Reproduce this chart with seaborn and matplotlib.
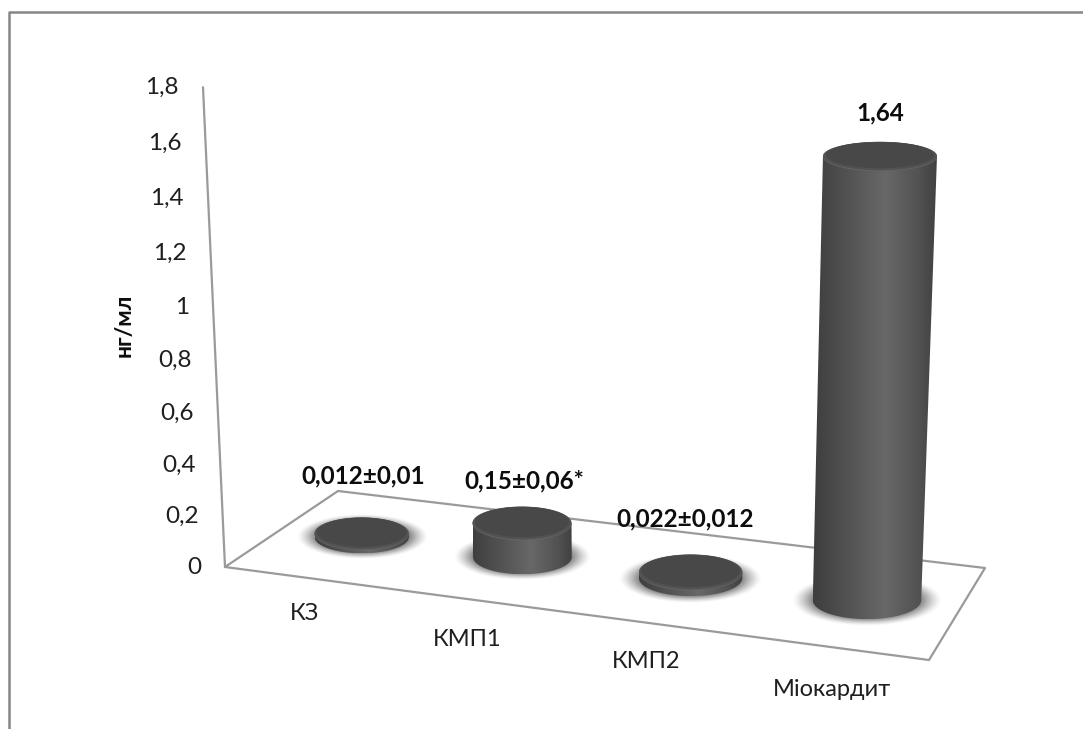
#!/usr/bin/env python3
"""3D-style cylinder chart: нг/мл by patient group."""

import numpy as np
import pandas as pd
import matplotlib.pyplot as plt
import seaborn as sns
from matplotlib.colors import LinearSegmentedColormap
from matplotlib.path import Path

categories = ['КЗ', 'КМП1', 'КМП2', 'Міокардит']
# drawn heights (КМП1 is drawn lower than its label says)
values = [0.012, 0.13, 0.022, 1.64]
value_labels = ['0,012±0,01', '0,15±0,06*', '0,022±0,012', '1,64']
y_ticks = [0, 0.2, 0.4, 0.6, 0.8, 1, 1.2, 1.4, 1.6, 1.8]
y_tick_labels = ['0', '0,2', '0,4', '0,6', '0,8', '1', '1,2', '1,4', '1,6', '1,8']
y_title = 'нг/мл'

# layout, in image pixels
FLOOR = np.array([[225, 567], [929, 660], [985, 568], [338, 491]], dtype=float)
LABEL_DY = [58, 43, 54, 44]
LABEL_DX = [2, 2, -6, 0]
CAT_LABEL_XY = [(304, 613), (467, 640), (646, 662), (832, 689)]
LINE = '#9a9a9a'
FRAME = '#868686'
FONT = 'Lato'
BAR_GAIN = 1.02


def floor_matrix(q):
    # homography from the unit square (u along the front, w into depth)
    (x0, y0), (x1, y1), (x2, y2), (x3, y3) = q
    dx1, dx2, sx = x1 - x2, x3 - x2, x0 - x1 + x2 - x3
    dy1, dy2, sy = y1 - y2, y3 - y2, y0 - y1 + y2 - y3
    det = dx1 * dy2 - dx2 * dy1
    g = (sx * dy2 - dx2 * sy) / det
    h = (dx1 * sy - sx * dy1) / det
    return np.array([[x1 - x0 + g * x1, x3 - x0 + h * x3, x0],
                     [y1 - y0 + g * y1, y3 - y0 + h * y3, y0],
                     [g, h, 1]])


M = floor_matrix(FLOOR)


def on_floor(u, w):
    p = M @ np.array([u, w, 1.0])
    return p[:2] / p[2]


def lift(v):
    # pixels of height for a value (perspective squeezes the low end)
    return 252 * v / (1 - 0.0303 * v)


def lean(x, h):
    # verticals diverge upward, camera looks down a bit
    return 617 + (x - 617) * (1 + 1.17e-4 * h)


def ellipse(cx, cy, a, b, t0=0, t1=2 * np.pi):
    t = np.linspace(t0, t1, 90)
    return np.column_stack([cx + a * np.cos(t), cy + b * np.sin(t)])


def add_shadow(ax, cx, cy, a, b):
    xx, yy = np.meshgrid(np.linspace(-1, 1, 160), np.linspace(-1, 1, 100))
    r = np.hypot(xx, yy)
    img = np.zeros((100, 160, 4))
    img[..., :3] = 0.48
    img[..., 3] = np.clip((1 - r) / 0.3, 0, 1) ** 1.3
    ax.imshow(img, extent=(cx - a * 1.38, cx + a * 1.38, cy + b * 1.36, cy - b * 1.36),
              aspect='auto', zorder=2, interpolation='bilinear')


side_cmap = LinearSegmentedColormap.from_list(
    'side', [(0, '#3e3e3e'), (0.2, '#4d4d4d'), (0.58, '#686868'), (0.85, '#525252'), (1, '#404040')])

sns.set_theme(style='white')
plt.rcParams['font.family'] = [FONT, 'DejaVu Sans']

fig = plt.figure(figsize=(10.83, 7.29), dpi=100)
ax = fig.add_axes([0, 0, 1, 1])

us = [(i + 0.5) / len(categories) for i in range(len(categories))]
bases = np.array([on_floor(u, 0.5) for u in us])
semi_a = [(on_floor(u + 0.075, 0.5)[0] - on_floor(u - 0.075, 0.5)[0]) / 2 for u in us]
semi_b = [(on_floor(u, 0.29)[1] - on_floor(u, 0.71)[1]) / 2 for u in us]

df = pd.DataFrame({
    'x': bases[:, 0],
    'h': [-BAR_GAIN * lift(v) for v in values],
})
# the bars sit in the core of each cylinder, shading goes on top
sns.barplot(data=df, x='x', y='h', native_scale=True, width=0.5, errorbar=None,
            color='#4a4a4a', saturation=1, bottom=bases[:, 1], zorder=3, ax=ax)

# floor and wall line
floor_closed = np.vstack([FLOOR, FLOOR[:1]])
ax.plot(floor_closed[:, 0], floor_closed[:, 1], color=LINE, lw=1.6, zorder=1.5)
wall_top = lean(FLOOR[0, 0], lift(1.8))
ax.plot([FLOOR[0, 0], wall_top], [FLOOR[0, 1], FLOOR[0, 1] - lift(1.8)], color=LINE, lw=1.6, zorder=1.5)

for bar, cx, a, b, lab, dx, dy in zip(ax.patches, bases[:, 0], semi_a, semi_b, value_labels, LABEL_DX, LABEL_DY):
    by = bar.get_y()
    h = -bar.get_height()
    add_shadow(ax, cx, by, a, b)

    tx = lean(cx, h)
    ta = a * (1 + 1.17e-4 * h)
    ty = by - h
    tb = b * (1 - 0.0005 * h)

    # side wall: trapezoid plus the front half of the base ellipse
    body = np.vstack([
        [[tx - ta, ty], [tx + ta, ty]],
        ellipse(cx, by, a, b, 0, np.pi),
    ])
    im = ax.imshow(np.linspace(0, 1, 256)[None, :], cmap=side_cmap, vmin=0, vmax=1,
                   extent=(min(cx - a, tx - ta), max(cx + a, tx + ta), by + b, ty),
                   aspect='auto', zorder=4, interpolation='bilinear')
    im.set_clip_path(Path(np.vstack([body, body[:1]])), ax.transData)

    # cap with a lighter rim
    cap = ellipse(tx, ty, ta, tb)
    ax.fill(cap[:, 0], cap[:, 1], color='#646464', lw=0, zorder=5)
    rim = ellipse(tx, ty - 0.6, ta, tb - 0.4)
    ax.fill(rim[:, 0], rim[:, 1], color='#525252', lw=0, zorder=5.1)
    top = ellipse(tx, ty - 1.6, ta * 0.95, tb * 0.9)
    ax.fill(top[:, 0], top[:, 1], color='#484848', lw=0, zorder=5.2)

    ax.text(tx + dx, ty - dy, lab, ha='center', va='center', fontsize=17.5, fontweight='bold',
            color='#0d0d0d', zorder=6)

for (lx, ly), cat in zip(CAT_LABEL_XY, categories):
    ax.text(lx, ly, cat, ha='center', va='center', fontsize=17, color='#1f1f1f')

for v, lab in zip(y_ticks, y_tick_labels):
    h = lift(v)
    ax.text(lean(FLOOR[0, 0], h) - 24, FLOOR[0, 1] - h, lab, ha='right', va='center',
            fontsize=17.5, color='#1f1f1f')

ax.text(124, 325, y_title, rotation=90, ha='center', va='center', fontsize=16.5,
        fontweight='bold', color='#0d0d0d')

# chart frame, runs off the image at the right and bottom
ax.plot([9, 9, 1083], [729, 12, 12], color=FRAME, lw=1.8, zorder=1)

ax.set_xlim(0, 1083)
ax.set_ylim(729, 0)
ax.axis('off')

fig.savefig('out.png', dpi=100)
